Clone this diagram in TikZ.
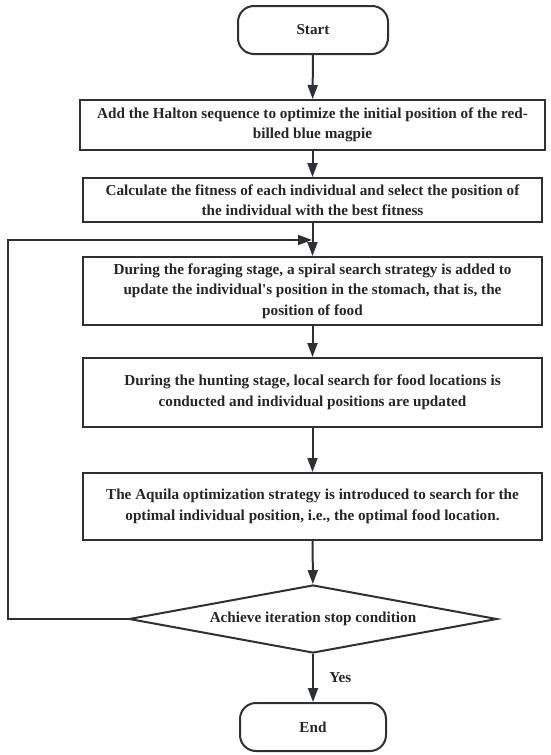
\documentclass[tikz,border=0pt]{standalone}
\usepackage{fontspec}
\setmainfont{Liberation Serif}
\usetikzlibrary{arrows.meta,shapes.geometric}
\definecolor{ln}{RGB}{45,48,52}
\definecolor{tx}{RGB}{38,38,38}
\begin{document}
\begin{tikzpicture}[x=1pt,y=-1pt,
  every node/.style={font=\fontsize{15.2}{20.5}\selectfont\bfseries, text=tx},
  proc/.style={draw=ln, line width=2pt, rectangle, minimum width=459pt, align=center, inner sep=0pt},
  term/.style={draw=ln, line width=2pt, rectangle, rounded corners=16pt, minimum width=150pt, minimum height=48pt, inner sep=0pt},
  dec/.style={draw=ln, line width=2pt, diamond, aspect=5.4, minimum width=368pt, minimum height=68pt, inner sep=0pt},
  arr/.style={draw=ln, line width=2pt, -{Triangle[length=14pt,width=10pt]}},
  lbl/.style={font=\fontsize{15.2}{17}\selectfont\bfseries}]
\useasboundingbox (0,0) rectangle (550,755);
\node[term] (start) at (313,30) {Start};
\node[proc, minimum width=465pt, minimum height=50pt] (b1) at (312.5,125) {Add the Halton sequence to optimize the initial position of the red-\\billed blue magpie};
\node[proc, minimum height=44pt] (b2) at (312.5,200) {Calculate the fitness of each individual and select the position of\\the individual with the best fitness};
\node[proc, minimum height=68pt] (b3) at (312.5,291) {During the foraging stage, a spiral search strategy is added to\\update the individual\textquotesingle s position in the stomach, that is, the\\position of food};
\node[proc, minimum height=69pt] (b4) at (312.5,392.5) {During the hunting stage, local search for food locations is\\conducted and individual positions are updated};
\node[proc, minimum height=67pt] (b5) at (312.5,506.5) {The Aquila optimization strategy is introduced to search for the\\optimal individual position, i.e., the optimal food location.};
\node[dec] (d) at (313,619) {Achieve iteration stop condition};
\node[term, minimum width=146pt] (end) at (313,727) {End};
\coordinate (lp) at (8,240);
\coordinate (lt) at (312,240);
\draw[arr] (start) -- (b1);
\draw[arr] (b1) -- (b2);
\draw[arr] (b2) -- (b3);
\draw[arr] (b3) -- (b4);
\draw[arr] (b4) -- (b5);
\draw[arr] (b5) -- (d);
\draw[arr] (d) -- node[lbl, right=12pt] (yes) {Yes} (end);
\draw[arr] (d.west) -| (lp) -- (lt);
\end{tikzpicture}
\end{document}
